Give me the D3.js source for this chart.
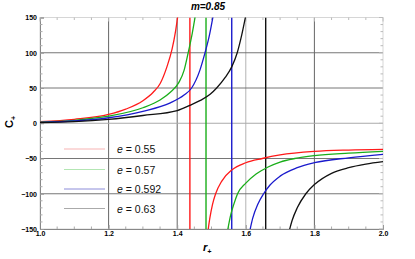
<!DOCTYPE html>
<html lang="en">
<head>
<meta charset="utf-8">
<title>m=0.85</title>
<script src="https://cdn.jsdelivr.net/npm/d3@7"></script>
<style>
  body { margin: 0; background: #fff; }
  svg { font-family: "Liberation Sans", Arial, sans-serif; }
  .tick text { font-size: 7px; font-weight: bold; fill: #000; }
</style>
</head>
<body>
<script>
// curve data: [r+, C+]
var redLeft   = [[1.0,2.2],[1.1,5.6],[1.2,12.5],[1.25,20],[1.3,32],[1.33,44],[1.35,56],[1.37,80],[1.385,105],[1.395,130],[1.402,153]];
var greenLeft = [[1.0,1.7],[1.1,4.2],[1.2,10],[1.3,22],[1.35,33],[1.38,44],[1.405,58],[1.42,75],[1.432,100],[1.444,128],[1.453,153]];
var blueLeft  = [[1.0,1.3],[1.1,3.2],[1.2,7.8],[1.3,17],[1.38,29],[1.42,40],[1.442,50],[1.466,75],[1.48,98],[1.494,125],[1.505,153]];
var blackLeft = [[1.0,0.8],[1.1,2.2],[1.2,5.5],[1.3,11],[1.4,18],[1.435,25],[1.466,32],[1.496,41],[1.515,50],[1.54,65],[1.559,80],[1.575,100],[1.588,125],[1.6,153]];

var redRight   = [[1.49,-152],[1.495,-135],[1.503,-115],[1.512,-100],[1.53,-82],[1.56,-66],[1.6,-56],[1.648,-50],[1.7,-45],[1.8,-40],[1.9,-38],[2.0,-37]];
var greenRight = [[1.547,-152],[1.556,-130],[1.565,-115],[1.576,-100],[1.6,-85],[1.63,-72],[1.665,-62],[1.7,-55],[1.743,-50],[1.8,-46],[1.9,-42.5],[2.0,-40]];
var blueRight  = [[1.612,-152],[1.62,-135],[1.635,-115],[1.652,-100],[1.67,-88],[1.7,-75],[1.75,-63],[1.8,-56],[1.9,-49],[2.0,-44]];
var blackRight = [[1.727,-152],[1.735,-138],[1.75,-120],[1.775,-100],[1.8,-87],[1.85,-71],[1.9,-63],[1.95,-58],[2.0,-54.5]];

var asymptotes = [1.437, 1.484, 1.559, 1.658];
var labels = ["0.55", "0.57", "0.592", "0.63"];
var colors = ["#ff1a1a", "#1aae1a", "#1a1acc", "#111"];
var legendColors = ["#f7b3b3", "#b3e6b3", "#8c8cd9", "#aaa"];

var xTicks = [1.0, 1.2, 1.4, 1.6, 1.8, 2.0];
var yTicks = [-150, -100, -50, 0, 50, 100, 150];

var series = [
  {left: redLeft, right: redRight},
  {left: greenLeft, right: greenRight},
  {left: blueLeft, right: blueRight},
  {left: blackLeft, right: blackRight}
];

var W = 415, H = 259;
var margin = {top: 17.5, right: 32, bottom: 30, left: 40};
var w = W - margin.left - margin.right,
    h = H - margin.top - margin.bottom;

var svg = d3.select("body").append("svg")
  .attr("width", W).attr("height", H);

var g = svg.append("g")
  .attr("transform", "translate(" + margin.left + "," + margin.top + ")");

var x = d3.scaleLinear().domain([1, 2]).range([0, w]);
var y = d3.scaleLinear().domain([-150, 150]).range([h, 0]);

svg.append("defs").append("clipPath").attr("id", "clip")
  .append("rect").attr("width", w).attr("height", h);

// grid lines
g.selectAll(".vgrid").data([1.2, 1.4, 1.6, 1.8]).enter().append("line")
  .attr("x1", d => x(d)).attr("x2", d => x(d))
  .attr("y1", 0).attr("y2", h)
  .attr("stroke", d => d === 1.6 ? "#aaa" : "#555")
  .attr("stroke-width", 0.9);

g.selectAll(".hgrid").data([-100, -50, 50, 100]).enter().append("line")
  .attr("x1", 0).attr("x2", w)
  .attr("y1", d => y(d)).attr("y2", d => y(d))
  .attr("stroke", "#666").attr("stroke-width", 0.9);

g.append("line")
  .attr("x1", 0).attr("x2", w).attr("y1", y(0)).attr("y2", y(0))
  .attr("stroke", "#aaa").attr("stroke-width", 1);

// frame
g.append("rect").attr("width", w).attr("height", h)
  .attr("fill", "none").attr("stroke", "#ccc").attr("stroke-width", 0.8);

// axes
var xAxis = d3.axisBottom(x).tickValues(xTicks).tickFormat(d3.format(".1f"))
  .tickSize(-4).tickPadding(3);
var yAxis = d3.axisLeft(y).tickValues(yTicks).tickFormat(d => d < 0 ? "\u2212" + Math.abs(d) : d)
  .tickSize(-4).tickPadding(3);

var gx = g.append("g").attr("transform", "translate(0," + h + ")").call(xAxis);
var gy = g.append("g").call(yAxis);
[gx, gy].forEach(function(a) {
  a.select(".domain").attr("stroke", "#888");
  a.selectAll(".tick line").attr("stroke", "#999");
});
gx.selectAll(".tick text").attr("dy", "0.6em");

// minor ticks on all sides
var xMinor = d3.range(1.05, 2.0, 0.05).filter(d => Math.abs(Math.round(d * 5) - d * 5) > 0.01);
var yMinor = d3.range(-140, 150, 10).filter(d => d % 50 !== 0);
g.selectAll(".xmb").data(xMinor).enter().append("line")
  .attr("x1", d => x(d)).attr("x2", d => x(d)).attr("y1", h).attr("y2", h - 2.5)
  .attr("stroke", "#aaa");
g.selectAll(".xmt").data(xMinor.concat(xTicks)).enter().append("line")
  .attr("x1", d => x(d)).attr("x2", d => x(d)).attr("y1", 0).attr("y2", d => xTicks.indexOf(d) >= 0 ? 4 : 2.5)
  .attr("stroke", "#bbb");
g.selectAll(".yml").data(yMinor).enter().append("line")
  .attr("x1", 0).attr("x2", 2.5).attr("y1", d => y(d)).attr("y2", d => y(d))
  .attr("stroke", "#aaa");
g.selectAll(".ymr").data(yMinor.concat(yTicks)).enter().append("line")
  .attr("x1", w).attr("x2", d => w - (yTicks.indexOf(d) >= 0 ? 4 : 2.5))
  .attr("y1", d => y(d)).attr("y2", d => y(d))
  .attr("stroke", "#bbb");

// curves
var plot = g.append("g").attr("clip-path", "url(#clip)");
var line = d3.line().x(d => x(d[0])).y(d => y(d[1])).curve(d3.curveMonotoneX);

plot.selectAll(".asym").data(asymptotes).enter().append("line")
  .attr("x1", d => x(d)).attr("x2", d => x(d)).attr("y1", 0).attr("y2", h)
  .attr("stroke", (d, i) => colors[i]).attr("stroke-width", 1.4);

series.forEach(function(s, i) {
  [s.left, s.right].forEach(function(pts) {
    plot.append("path").datum(pts)
      .attr("d", line)
      .attr("fill", "none")
      .attr("stroke", colors[i])
      .attr("stroke-width", 1.3);
  });
});

// legend
var legend = g.selectAll(".leg").data(labels).enter().append("g")
  .attr("transform", (d, i) => "translate(0," + (y(-50) + [-9.5, 11, 30.5, 50][i]) + ")");
legend.append("line")
  .attr("x1", 24).attr("x2", 65).attr("y1", 0).attr("y2", 0)
  .attr("stroke", (d, i) => legendColors[i]).attr("stroke-width", 1);
var lt = legend.append("text").attr("x", 77).attr("y", 4)
  .attr("font-size", 10.5).attr("fill", "#111");
lt.append("tspan").attr("font-style", "italic").text("e");
lt.append("tspan").text(d => " = " + d);

// title & axis labels
svg.append("text").attr("x", 208).attr("y", 10)
  .attr("text-anchor", "middle").attr("font-size", 10)
  .attr("font-weight", "bold").attr("font-style", "italic")
  .text("m=0.85");

var xl = svg.append("text").attr("x", 203).attr("y", 251)
  .attr("font-size", 11).attr("font-weight", "bold").attr("font-style", "italic");
xl.append("tspan").text("r");
xl.append("tspan").attr("font-size", 7).attr("dy", 2.5).text("+");

var yl = svg.append("text").attr("transform", "translate(13,128) rotate(-90)")
  .attr("font-size", 11).attr("font-weight", "bold");
yl.append("tspan").text("C");
yl.append("tspan").attr("font-size", 7).attr("dy", 2.5).text("+");
</script>
</body>
</html>
